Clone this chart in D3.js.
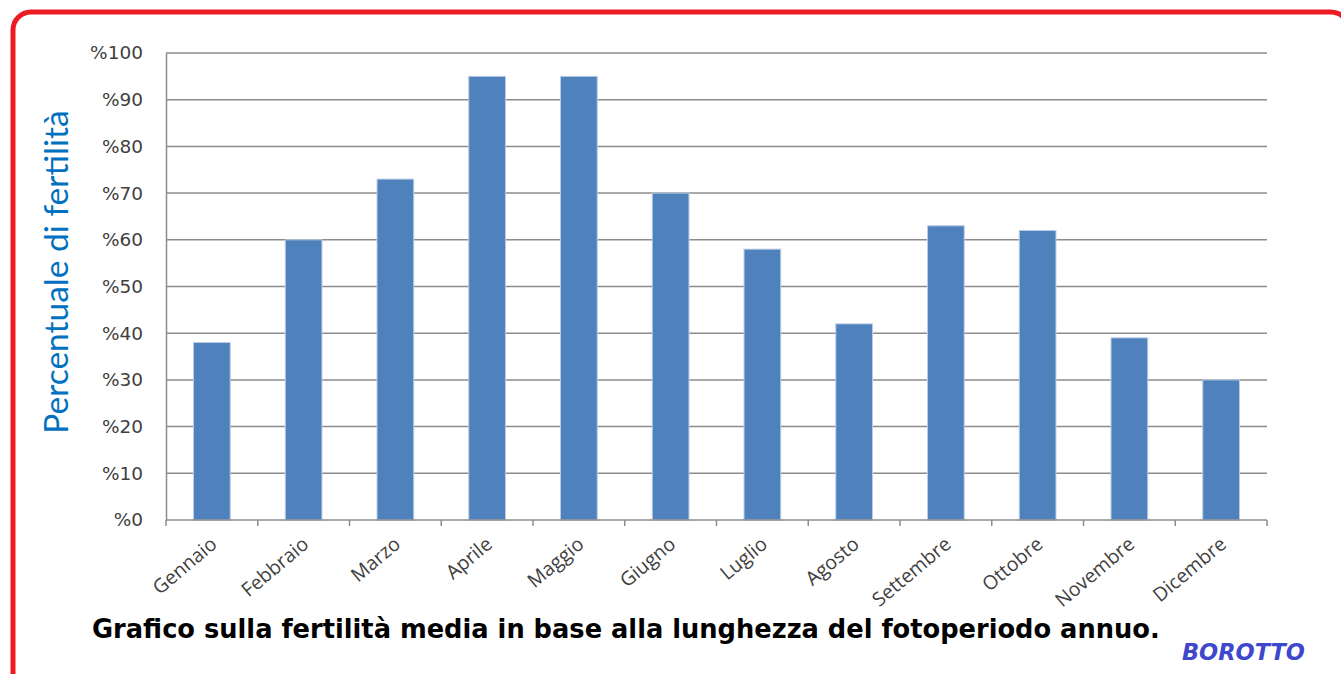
<!DOCTYPE html>
<html>
<head>
<meta charset="utf-8">
<script src="https://cdn.jsdelivr.net/npm/d3@7"></script>
<style>
  html, body { margin: 0; padding: 0; background: #fff; }
  svg { display: block; }
</style>
</head>
<body>
<div id="chart"></div>
<script>
const months = ['Gennaio', 'Febbraio', 'Marzo', 'Aprile', 'Maggio', 'Giugno',
  'Luglio', 'Agosto', 'Settembre', 'Ottobre', 'Novembre', 'Dicembre']
const fertility = [38, 60, 73, 95, 95, 70, 58, 42, 63, 62, 39, 30]
const yTicks = [0, 10, 20, 30, 40, 50, 60, 70, 80, 90, 100]

const width = 1341
const height = 674
const margin = { top: 53, right: 74, bottom: 154, left: 166 }
const innerWidth = width - margin.left - margin.right
const innerHeight = height - margin.top - margin.bottom

const svg = d3.select('#chart')
  .append('svg')
  .attr('width', width)
  .attr('height', height)

// red frame
svg.append('rect')
  .attr('x', 13)
  .attr('y', 12)
  .attr('width', 1336)
  .attr('height', 720)
  .attr('rx', 18)
  .attr('fill', 'none')
  .attr('stroke', '#ED1C24')
  .attr('stroke-width', 5)

const g = svg.append('g')
  .attr('transform', `translate(${margin.left}, ${margin.top})`)

const x = d3.scaleBand()
  .domain(months)
  .range([0, innerWidth])
  .paddingInner(0.6)
  .paddingOuter(0.3)

const y = d3.scaleLinear()
  .domain([0, 100])
  .range([innerHeight, 0])

// gridlines
g.append('g')
  .selectAll('line')
  .data(yTicks.filter(d => d > 0))
  .join('line')
  .attr('x1', 0)
  .attr('x2', innerWidth)
  .attr('y1', d => y(d))
  .attr('y2', d => y(d))
  .attr('stroke', '#8c8c8c')
  .attr('stroke-width', 1.5)

// Y axis
const yAxis = g.append('g')
  .call(d3.axisLeft(y).tickValues(yTicks).tickSize(0).tickPadding(23).tickFormat(d => '%' + d))
yAxis.select('.domain').attr('stroke', '#8c8c8c').attr('stroke-width', 1.5)
yAxis.selectAll('text')
  .attr('fill', '#404040')
  .style('font-family', '"DejaVu Sans", sans-serif')
  .style('font-size', '18.5px')

// bars
g.selectAll('rect.bar')
  .data(fertility)
  .join('rect')
  .attr('class', 'bar')
  .attr('x', (d, i) => x(months[i]))
  .attr('y', d => y(d))
  .attr('width', x.bandwidth())
  .attr('height', d => innerHeight - y(d))
  .attr('fill', '#4F81BD')
  .attr('stroke', '#b9cde5')
  .attr('stroke-width', 1)

// X axis
const step = innerWidth / months.length
const xAxis = g.append('g')
  .attr('transform', `translate(0, ${innerHeight})`)
xAxis.append('line')
  .attr('x1', 0)
  .attr('x2', innerWidth)
  .attr('stroke', '#8c8c8c')
  .attr('stroke-width', 1.5)
xAxis.selectAll('line.tick')
  .data(d3.range(months.length + 1))
  .join('line')
  .attr('class', 'tick')
  .attr('x1', i => i * step)
  .attr('x2', i => i * step)
  .attr('y1', 0)
  .attr('y2', 6)
  .attr('stroke', '#8c8c8c')
  .attr('stroke-width', 1.5)
xAxis.selectAll('text')
  .data(months)
  .join('text')
  .attr('transform', d => `translate(${x(d) + x.bandwidth() / 2 - 3}, 15) rotate(-40)`)
  .attr('text-anchor', 'end')
  .attr('dy', '0.75em')
  .attr('fill', '#404040')
  .style('font-family', '"Open Sans", sans-serif')
  .style('font-size', '19.5px')
  .text(d => d)

// Y axis title
svg.append('text')
  .attr('transform', `translate(68, 272) rotate(-90)`)
  .attr('text-anchor', 'middle')
  .attr('fill', '#0070C0')
  .style('font-family', 'Lato, "Open Sans", sans-serif')
  .style('font-size', '33.5px')
  .text('Percentuale di fertilità')

// caption
svg.append('text')
  .attr('x', 92)
  .attr('y', 638)
  .attr('fill', '#000')
  .style('font-family', '"DejaVu Sans", sans-serif')
  .style('font-weight', 'bold')
  .style('font-size', '25.7px')
  .text('Grafico sulla fertilità media in base alla lunghezza del fotoperiodo annuo.')

svg.append('text')
  .attr('x', 1305)
  .attr('y', 660)
  .attr('text-anchor', 'end')
  .attr('fill', '#3f48cc')
  .style('font-family', '"DejaVu Sans", sans-serif')
  .style('font-weight', 'bold')
  .style('font-style', 'italic')
  .style('font-size', '22.5px')
  .text('BOROTTO')
</script>
</body>
</html>
